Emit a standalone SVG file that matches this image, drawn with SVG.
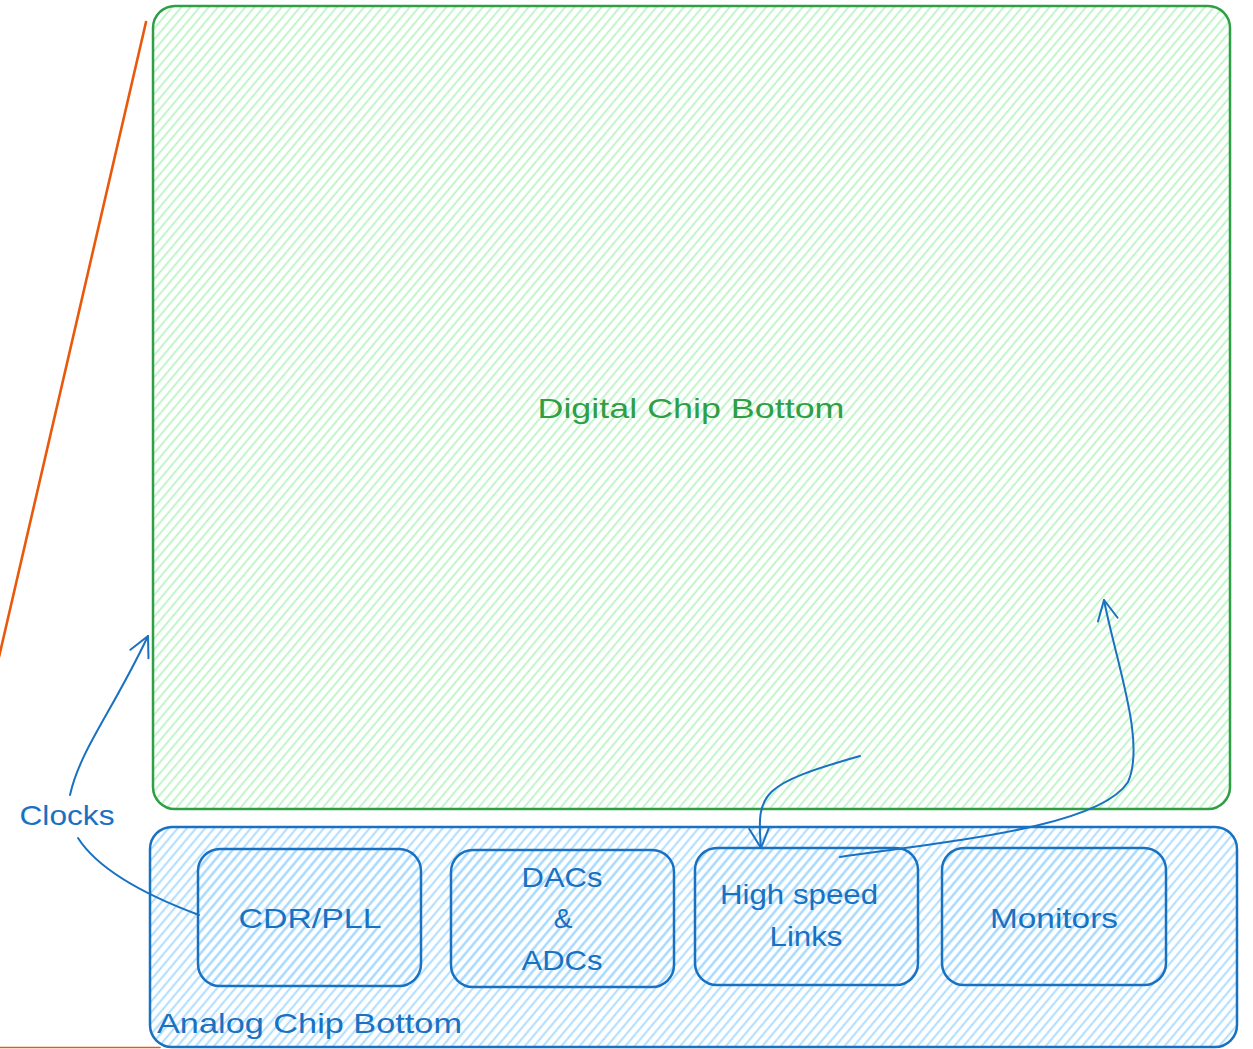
<svg xmlns="http://www.w3.org/2000/svg" width="1253" height="1049" viewBox="0 0 1253 1049">
  <style>
    .green-box { fill: url(#hatchGreen); stroke: #2f9e44; stroke-width: 2.5; }
    .blue-box { fill: url(#hatchBlue); stroke: #1971c2; stroke-width: 2.5; }
    .wire { fill: none; stroke: #1971c2; stroke-width: 2; stroke-linecap: round; stroke-linejoin: round; }
    .lbl { font-family: "Liberation Sans", "Open Sans", sans-serif; font-size: 28px; }
    .lbl-blue { fill: #1971c2; }
    .lbl-green { fill: #2f9e44; }
    .edge { fill: none; stroke: #e8590c; stroke-linecap: round; }
  </style>
  <defs>
    <!-- diagonal hachure fills -->
    <pattern id="hatchGreen" patternUnits="userSpaceOnUse" width="20" height="7" patternTransform="rotate(-50)">
      <line x1="0" y1="3.5" x2="20" y2="3.5" stroke="#b2f2bb" stroke-width="1.6"/>
    </pattern>
    <pattern id="hatchBlue" patternUnits="userSpaceOnUse" width="20" height="7" patternTransform="rotate(-50)">
      <line x1="0" y1="3.5" x2="20" y2="3.5" stroke="#a5d8ff" stroke-width="1.8"/>
    </pattern>
    <marker id="openArrow" markerUnits="userSpaceOnUse" viewBox="0 0 24 24" markerWidth="24" markerHeight="24" refX="22" refY="12" orient="auto">
      <path d="M2,2 L22,12 L2,22" fill="none" stroke="#1971c2" stroke-width="2" stroke-linecap="round" stroke-linejoin="round"/>
    </marker>
  </defs>

  <!-- orange edge lines -->
  <g id="edge-lines">
    <line class="edge" x1="146" y1="22" x2="-1" y2="657" stroke-width="2.6"/>
    <line class="edge" x1="0" y1="1047.5" x2="160" y2="1047.5" stroke-width="1.6"/>
  </g>

  <g id="digital-chip">
    <rect class="green-box" x="153" y="6" width="1077" height="803" rx="22" ry="22"/>
    <text class="lbl lbl-green" x="691" y="418" text-anchor="middle" font-size="30" textLength="307" lengthAdjust="spacingAndGlyphs">Digital Chip Bottom</text>
  </g>

  <g id="analog-chip">
    <rect class="blue-box" x="150" y="827" width="1087" height="220" rx="22" ry="22"/>
    <text class="lbl lbl-blue" x="157" y="1033" textLength="305" lengthAdjust="spacingAndGlyphs">Analog Chip Bottom</text>
  </g>

  <g id="cdr-pll">
    <rect class="blue-box" x="198" y="849" width="223" height="137" rx="22" ry="22"/>
    <text class="lbl lbl-blue" x="310" y="928" text-anchor="middle" textLength="143" lengthAdjust="spacingAndGlyphs">CDR/PLL</text>
  </g>

  <g id="dacs-adcs">
    <rect class="blue-box" x="451" y="850" width="223" height="137" rx="22" ry="22"/>
    <text class="lbl lbl-blue" x="562" y="887" text-anchor="middle" textLength="81" lengthAdjust="spacingAndGlyphs">DACs</text>
    <text class="lbl lbl-blue" x="563" y="928" text-anchor="middle">&amp;</text>
    <text class="lbl lbl-blue" x="562" y="970" text-anchor="middle" textLength="81" lengthAdjust="spacingAndGlyphs">ADCs</text>
  </g>

  <g id="high-speed-links">
    <rect class="blue-box" x="695" y="848" width="223" height="137" rx="22" ry="22"/>
    <text class="lbl lbl-blue" x="799" y="904" text-anchor="middle" textLength="158" lengthAdjust="spacingAndGlyphs">High speed</text>
    <text class="lbl lbl-blue" x="806" y="946" text-anchor="middle" textLength="73" lengthAdjust="spacingAndGlyphs">Links</text>
  </g>

  <g id="monitors">
    <rect class="blue-box" x="942" y="848" width="224" height="137" rx="22" ry="22"/>
    <text class="lbl lbl-blue" x="1054" y="928" text-anchor="middle" textLength="128" lengthAdjust="spacingAndGlyphs">Monitors</text>
  </g>

  <g id="clocks-label">
    <text class="lbl lbl-blue" x="67" y="825" text-anchor="middle" textLength="95" lengthAdjust="spacingAndGlyphs">Clocks</text>
  </g>

  <g id="connectors">
    <!-- clocks up into the digital chip -->
    <path class="wire" d="M70,795 C80,750 112,712 148,636" marker-end="url(#openArrow)"/>
    <!-- clocks label to CDR/PLL -->
    <path class="wire" d="M78,838 Q105,880 199,915"/>
    <!-- digital chip down into high speed links -->
    <path class="wire" d="M860,756 C762,784 756,792 761,848" marker-end="url(#openArrow)"/>
    <!-- high speed links back up into the digital chip -->
    <path class="wire" d="M840,857 C960,840 1100,826 1128,782 C1146,742 1116,662 1104,600" marker-end="url(#openArrow)"/>
  </g>
</svg>
